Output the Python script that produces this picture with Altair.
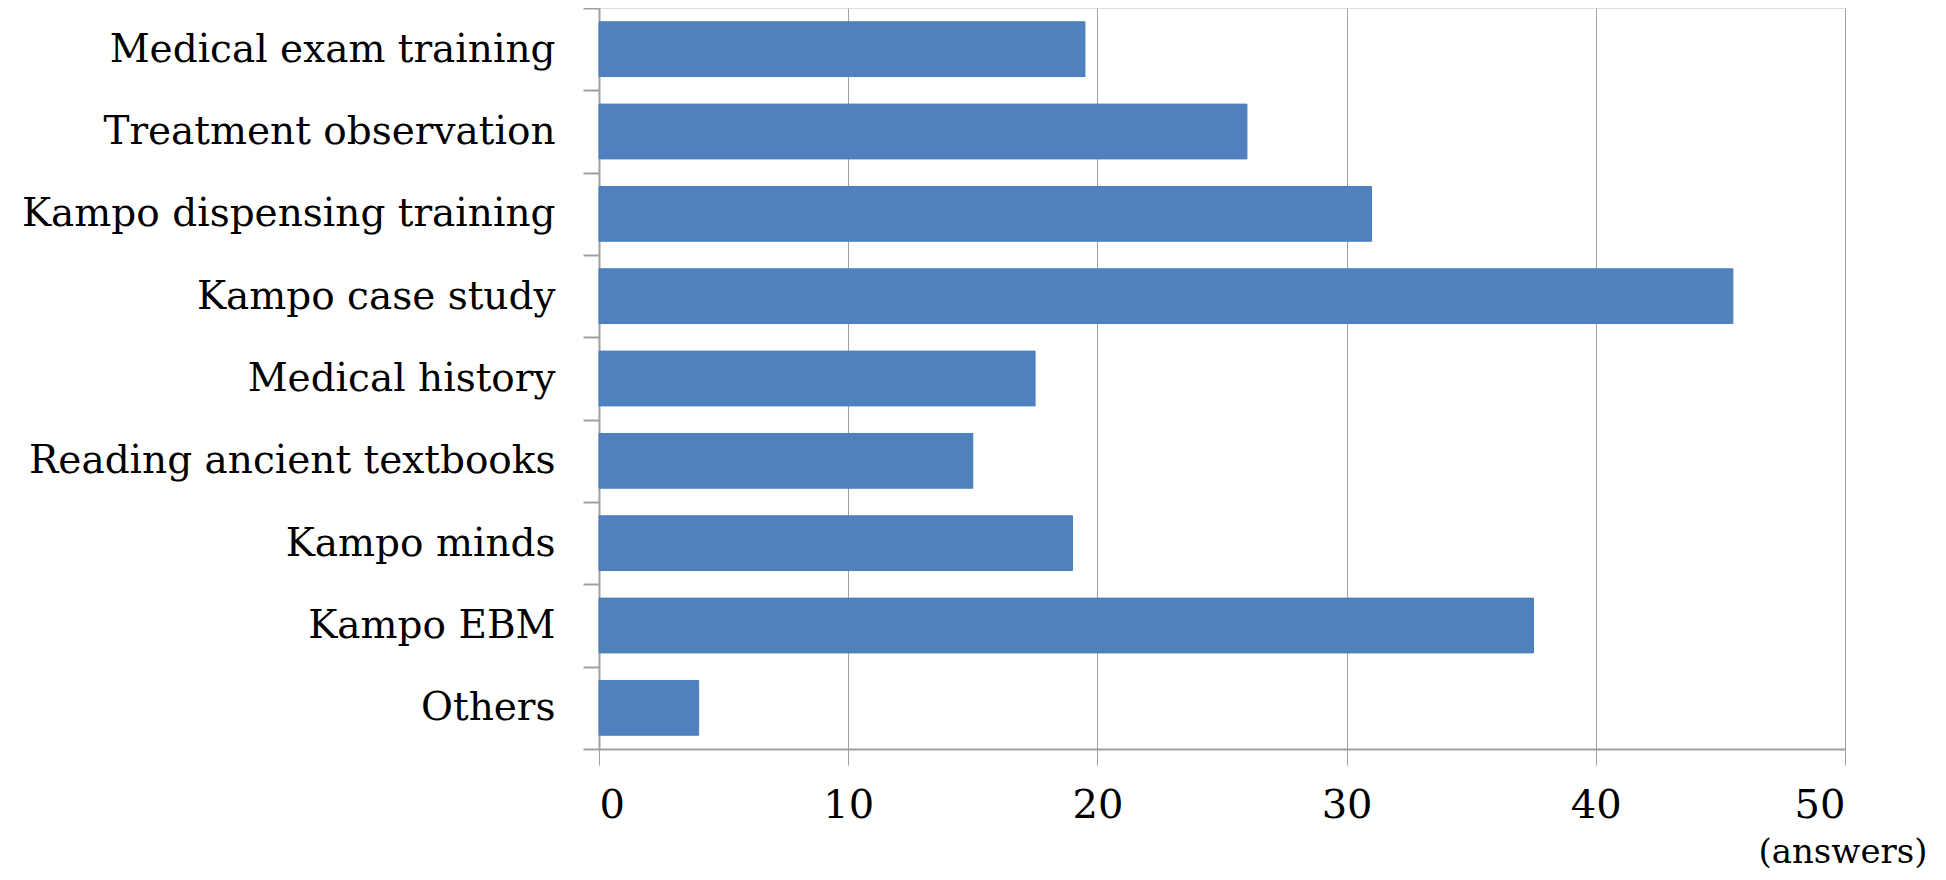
import altair as alt
import pandas as pd

categories = [
    "Medical exam training",
    "Treatment observation",
    "Kampo dispensing training",
    "Kampo case study",
    "Medical history",
    "Reading ancient textbooks",
    "Kampo minds",
    "Kampo EBM",
    "Others",
]
answers = [19.5, 26, 31, 45.5, 17.5, 15, 19, 37.5, 4]
x_ticks = [0, 10, 20, 30, 40, 50]

df = pd.DataFrame({"category": categories, "answers": answers})

FONT = "DejaVu Serif"
GRID = "#a0a0a0"

chart = (
    alt.Chart(df)
    .mark_bar(color="#4F81BD", stroke="#4A7EBB", strokeWidth=1, height={"band": 0.665})
    .encode(
        x=alt.X(
            "answers:Q",
            scale=alt.Scale(domain=[0, 50], nice=False),
            axis=alt.Axis(
                values=x_ticks,
                title="(answers)",
                titleFont=FONT,
                titleFontSize=34,
                titleFontWeight="normal",
                titleColor="black",
                titleAlign="right",
                titleBaseline="middle",
                titleX=1328,
                titleY=103,
                labelFont=FONT,
                labelFontSize=40,
                labelColor="black",
                labelPadding=20,
                tickSize=16,
                tickColor=GRID,
                domainColor=GRID,
                domainWidth=2,
                gridColor=GRID,
                gridWidth=1,
                grid=True,
            ),
        ),
        y=alt.Y(
            "category:N",
            sort=categories,
            scale=alt.Scale(paddingInner=0, paddingOuter=0),
            axis=alt.Axis(
                title=None,
                labelFont=FONT,
                labelFontSize=39,
                labelColor="black",
                labelLimit=800,
                labelPadding=28,
                tickSize=16,
                tickBand="extent",
                tickColor=GRID,
                tickWidth=2,
                domainColor=GRID,
                domainWidth=2,
                grid=False,
            ),
        ),
    )
    .properties(
        width=1246,
        height=741,
        autosize=alt.AutoSizeParams(type="none"),
        padding={"left": 591, "top": 0, "right": 85, "bottom": 122},
    )
    .configure_view(stroke=None)
    .configure(background="white")
)

chart.save("out.html", embed_options={"renderer": "svg", "actions": False})
